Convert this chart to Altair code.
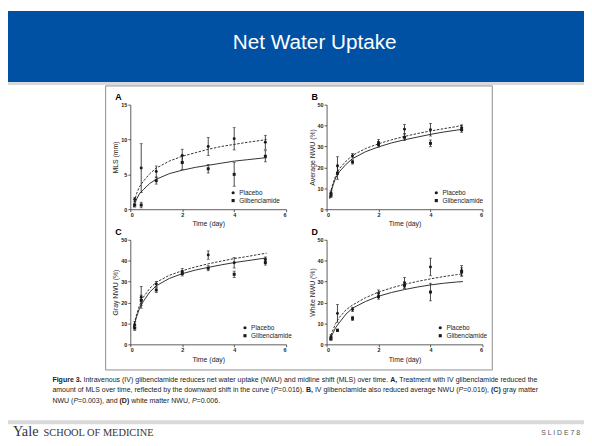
import altair as alt
import pandas as pd

# ---------------- data ----------------
times = [0.17, 0.42, 1, 2, 3, 4, 5.2]
groups = ["Placebo", "Glibenclamide"]

a_placebo = [1.4, 5.9, 5.4, 7.7, 9.0, 10.1, 9.6]
a_placebo_err = [0.3, 3.5, 0.8, 0.9, 1.3, 1.6, 1.0]
a_glib = [0.6, 0.6, 4.1, 6.7, 5.8, 5.0, 7.6]
a_glib_err = [0.3, 0.4, 0.5, 1.0, 0.6, 1.7, 0.8]

b_placebo = [7.5, 20.8, 25.6, 31.9, 38.3, 38.0, 39.0]
b_placebo_err = [1.3, 4.3, 1.0, 1.5, 2.2, 3.0, 1.3]
b_glib = [6.8, 17.3, 22.6, 31.0, 34.4, 31.5, 38.0]
b_glib_err = [1.2, 3.0, 1.0, 1.3, 1.6, 1.6, 1.2]

c_placebo = [9.4, 22.5, 28.9, 34.8, 42.7, 39.0, 40.6]
c_placebo_err = [1.5, 5.2, 1.2, 1.5, 2.0, 2.5, 1.2]
c_glib = [7.8, 21.0, 26.0, 33.9, 36.4, 33.5, 39.1]
c_glib_err = [1.2, 2.5, 1.2, 1.2, 1.2, 1.5, 1.2]

d_placebo = [3.6, 14.8, 16.7, 24.5, 29.5, 37.0, 35.2]
d_placebo_err = [1.0, 4.2, 1.0, 1.5, 2.5, 4.2, 2.5]
d_glib = [2.7, 6.7, 12.4, 22.8, 28.2, 25.0, 34.6]
d_glib_err = [0.8, 0.6, 1.0, 1.2, 1.5, 4.2, 2.0]

curve_t = [0.12, 0.17, 0.25, 0.35, 0.5, 0.75, 1, 1.5, 2, 2.5, 3, 3.5, 4, 4.5, 5, 5.25]
a_fit_placebo = [0.5, 1.3, 2.3, 3.2, 4.0, 5.1, 5.9, 6.9, 7.6, 8.1, 8.6, 9.0, 9.3, 9.6, 9.85, 10.0]
a_fit_glib = [0.3, 0.8, 1.5, 2.2, 2.8, 3.7, 4.3, 5.1, 5.6, 6.0, 6.3, 6.6, 6.9, 7.1, 7.3, 7.4]
b_fit_placebo = [5.5, 9, 12.5, 16, 19.5, 23, 25.8, 29, 31.3, 33.2, 34.8, 36.2, 37.4, 38.5, 39.5, 40.3]
b_fit_glib = [5, 8, 11.5, 15, 18, 21.5, 24.2, 27.5, 29.8, 31.7, 33.2, 34.5, 35.8, 36.9, 37.8, 38.3]
c_fit_placebo = [8, 11, 14.5, 18.5, 22.5, 26.8, 29.7, 33, 35.2, 37, 38.5, 39.8, 41, 42, 43.1, 43.6]
c_fit_glib = [7.5, 10, 13.5, 17, 20.5, 25, 28, 31.5, 33.8, 35.5, 36.8, 38, 39.1, 40, 40.9, 41.3]
d_fit_placebo = [2.5, 4.5, 7, 10, 13, 16.5, 18.8, 22.3, 25, 27, 28.7, 30.1, 31.3, 32.4, 33.3, 33.7]
d_fit_glib = [2, 3.5, 5.5, 8, 10.5, 14.5, 17.3, 20.5, 23, 24.8, 26.2, 27.4, 28.4, 29.2, 29.8, 30]

x_ticks = [0, 2, 4, 6]
slide_title = "Net Water Uptake"
# caption segments: (text, style)  style: n=normal, b=bold, i=italic
caption_lines = [
    [("Figure 3. ", "b"),
     ("Intravenous (IV) glibenclamide reduces net water uptake (NWU) and midline shift (MLS) over time. ", "n"),
     ("A, ", "b"), ("Treatment with IV glibenclamide reduced the", "n")],
    [("amount of MLS over time, reflected by the downward shift in the curve (", "n"), ("P", "i"),
     ("=0.016). ", "n"), ("B, ", "b"), ("IV glibenclamide also reduced average NWU (", "n"), ("P", "i"),
     ("=0.016), ", "n"), ("(C) ", "b"), ("gray matter", "n")],
    [("NWU (", "n"), ("P", "i"), ("=0.003), and ", "n"), ("(D) ", "b"), ("white matter NWU, ", "n"),
     ("P", "i"), ("=0.006.", "n")],
]
footer_left_big = "Yale"
footer_left_small = "SCHOOL OF MEDICINE"
footer_right = "S L I D E  7 8"

FONT = "Liberation Sans"
SERIF = "Liberation Serif"
W, H = 158, 106
INK = "#1a1a1a"

# Arial / Liberation Sans advance widths (1/1000 em)
_REG = {" ": 278, "(": 333, ")": 333, ",": 278, ".": 278, "=": 584, "-": 333}
_REG.update({d: 556 for d in "0123456789"})
_REG.update(dict(zip("ABCDEFGHIJKLMNOPQRSTUVWXYZ",
                     [667, 667, 722, 722, 667, 611, 778, 722, 278, 500, 667, 556, 833, 722, 778,
                      667, 778, 722, 667, 611, 722, 667, 944, 667, 667, 611])))
_REG.update(dict(zip("abcdefghijklmnopqrstuvwxyz",
                     [556, 556, 500, 556, 556, 278, 556, 556, 222, 222, 500, 222, 833, 556, 556,
                      556, 556, 333, 500, 278, 556, 500, 722, 500, 500, 500])))
_BOLD = dict(_REG)
_BOLD.update({"A": 722, "B": 722, "F": 611, "i": 278, "g": 611, "u": 611, "r": 389, "e": 556})


def text_width(s, style, fs):
    tbl = _BOLD if style == "b" else _REG
    return sum(tbl.get(ch, 556) for ch in s) * fs / 1000.0


def points_df(plc, plc_err, gli, gli_err):
    rows = []
    for g, vals, errs in (("Placebo", plc, plc_err), ("Glibenclamide", gli, gli_err)):
        for t, v, e in zip(times, vals, errs):
            rows.append({"t": t, "v": v, "lo": v - e, "hi": v + e, "grp": g})
    return pd.DataFrame(rows)


def curve_df(fp, fg):
    rows = []
    for g, vals in (("Placebo", fp), ("Glibenclamide", fg)):
        for t, v in zip(curve_t, vals):
            rows.append({"t": t, "v": v, "grp": g})
    return pd.DataFrame(rows)


def panel(letter, ytitle, ymax, ystep, pts, crv, legx, legy):
    xs = alt.Scale(domain=[0, 6], nice=False, zero=False)
    ys = alt.Scale(domain=[0, ymax], nice=False)
    xax = alt.Axis(values=x_ticks, title="Time (day)", labelOverlap=False)
    yvals = list(range(0, ymax + 1, ystep))
    yax = alt.Axis(values=yvals, tickCount=len(yvals), title=ytitle, labelOverlap=False)

    def X(f):
        return alt.X(f, scale=xs, axis=xax)

    def Y(f):
        return alt.Y(f, scale=ys, axis=yax)

    base = alt.Chart(pts)
    rules = base.mark_rule(color=INK, strokeWidth=0.8).encode(x=X("t:Q"), y=Y("lo:Q"), y2="hi:Q")
    cap_lo = base.mark_tick(orient="horizontal", size=3, thickness=0.8, color=INK).encode(
        x=X("t:Q"), y=Y("lo:Q"))
    cap_hi = base.mark_tick(orient="horizontal", size=3, thickness=0.8, color=INK).encode(
        x=X("t:Q"), y=Y("hi:Q"))
    line_p = alt.Chart(crv).transform_filter(alt.datum.grp == "Placebo").mark_line(
        color=INK, strokeWidth=0.9, strokeDash=[2.5, 1.5]).encode(x=X("t:Q"), y=Y("v:Q"))
    line_g = alt.Chart(crv).transform_filter(alt.datum.grp == "Glibenclamide").mark_line(
        color=INK, strokeWidth=0.9).encode(x=X("t:Q"), y=Y("v:Q"))
    dots = base.mark_point(filled=True, color=INK, opacity=1, size=9).encode(
        x=X("t:Q"),
        y=Y("v:Q"),
        shape=alt.Shape(
            "grp:N",
            scale=alt.Scale(domain=groups, range=["circle", "square"]),
            legend=alt.Legend(orient="none", legendX=legx, legendY=legy, title=None),
        ),
    )
    lab = alt.Chart(pd.DataFrame({"s": [letter]})).mark_text(
        font=FONT, fontSize=9, fontWeight="bold", color="#000", align="center", baseline="middle"
    ).encode(text="s:N", x=alt.value(-12), y=alt.value(-8))
    return [rules, cap_lo, cap_hi, line_p, line_g, dots, lab]


def deco_layers():
    one = pd.DataFrame({"k": [0]})
    ox, oy = -124, -95  # chart origin relative to panel A
    layers = []
    layers.append(alt.Chart(one).mark_rect(color="#0051A3").encode(
        x=alt.value(ox), x2=alt.value(ox + 584), y=alt.value(oy), y2=alt.value(oy + 72)))
    layers.append(alt.Chart(one).mark_rect(color="#d9d9d9").encode(
        x=alt.value(ox), x2=alt.value(ox + 584), y=alt.value(oy + 72), y2=alt.value(oy + 75)))
    layers.append(alt.Chart(pd.DataFrame({"s": [slide_title]})).mark_text(
        font=FONT, fontSize=21, color="white", align="center", baseline="middle").encode(
        text="s:N", x=alt.value(ox + 311), y=alt.value(oy + 33)))
    layers.append(alt.Chart(one).mark_rect(fillOpacity=0, stroke="#8c8c8c", strokeWidth=1).encode(
        x=alt.value(ox + 99), x2=alt.value(ox + 491), y=alt.value(oy + 76), y2=alt.value(oy + 364)))
    cap_x = ox + 45
    cap_y = [oy + 374, oy + 384.5, oy + 395]
    fs = 7.1
    for i, segs in enumerate(caption_lines):
        cx = cap_x
        for s, st in segs:
            layers.append(alt.Chart(pd.DataFrame({"s": [s.strip()]})).mark_text(
                font=FONT, fontSize=fs, color="#222", align="left", baseline="middle",
                fontWeight="bold" if st == "b" else "normal",
                fontStyle="italic" if st == "i" else "normal").encode(
                text="s:N", x=alt.value(cx), y=alt.value(cap_y[i])))
            cx += text_width(s, st, fs)
    layers.append(alt.Chart(one).mark_rect(color="#d9d9d9").encode(
        x=alt.value(ox), x2=alt.value(ox + 584), y=alt.value(oy + 415), y2=alt.value(oy + 419)))
    layers.append(alt.Chart(pd.DataFrame({"s": [footer_left_big]})).mark_text(
        font=SERIF, fontSize=14.5, color="#333", align="left", baseline="alphabetic").encode(
        text="s:N", x=alt.value(ox + 5), y=alt.value(oy + 430.5)))
    layers.append(alt.Chart(pd.DataFrame({"s": [footer_left_small]})).mark_text(
        font=SERIF, fontSize=10.5, color="#333", align="left", baseline="alphabetic").encode(
        text="s:N", x=alt.value(ox + 36), y=alt.value(oy + 430.5)))
    layers.append(alt.Chart(pd.DataFrame({"s": [footer_right]})).mark_text(
        font=FONT, fontSize=7, color="#555", align="right", baseline="alphabetic").encode(
        text="s:N", x=alt.value(ox + 580), y=alt.value(oy + 429.5)))
    return layers


pa = panel("A", "MLS (mm)", 15, 5, points_df(a_placebo, a_placebo_err, a_glib, a_glib_err),
           curve_df(a_fit_placebo, a_fit_glib), 101, 86)
pb = panel("B", "Average NWU (%)", 50, 10, points_df(b_placebo, b_placebo_err, b_glib, b_glib_err),
           curve_df(b_fit_placebo, b_fit_glib), 108, 86)
pc = panel("C", "Gray NWU (%)", 50, 10, points_df(c_placebo, c_placebo_err, c_glib, c_glib_err),
           curve_df(c_fit_placebo, c_fit_glib), 113, 86)
pd_ = panel("D", "White NWU (%)", 50, 10, points_df(d_placebo, d_placebo_err, d_glib, d_glib_err),
            curve_df(d_fit_placebo, d_fit_glib), 112, 86)

chart_a = alt.layer(*(deco_layers() + pa)).properties(width=W, height=H)
chart_b = alt.layer(*pb).properties(width=W, height=H)
chart_c = alt.layer(*pc).properties(width=W, height=H)
chart_d = alt.layer(*pd_).properties(width=W, height=H)

chart = alt.concat(
    chart_a, chart_b, chart_c, chart_d,
    columns=2, bounds="flush", spacing={"row": 31, "column": 41},
).resolve_scale(shape="independent").properties(
    padding=0, background="white"
).configure_view(stroke=None).configure_axis(
    grid=False, domainColor="#333", domainWidth=0.8, tickColor="#333", tickWidth=0.8,
    tickSize=2.5, labelFont=FONT, labelFontSize=5.5, labelFontWeight="bold", labelColor="#222",
    labelPadding=1, labelOverlap=False, titleFont=FONT, titleFontSize=7, titleFontWeight="normal",
    titleColor="#222", titlePadding=2,
).configure_legend(
    labelFont=FONT, labelFontSize=6.5, labelColor="#222", symbolSize=10, symbolStrokeWidth=0,
    symbolFillColor=INK, rowPadding=1, padding=0, labelOffset=3,
)

chart.save("out.html", embed_options={"renderer": "svg", "actions": False})
